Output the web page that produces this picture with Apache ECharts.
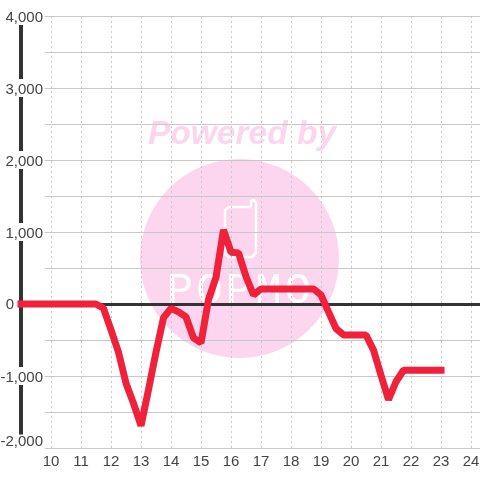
<!DOCTYPE html>
<html>
<head>
<meta charset="utf-8">
<style>
  html, body { margin: 0; padding: 0; background: #fff; }
  #chart { width: 480px; height: 480px; }
</style>
<script src="https://cdn.jsdelivr.net/npm/echarts@6/dist/echarts.min.js"></script>
</head>
<body>
<div id="chart"></div>
<script>
const hours = [9, 11.5, 11.75, 12, 12.25, 12.5, 12.75, 13, 13.25, 13.5, 13.75, 14, 14.25, 14.5, 14.75, 15, 15.25, 15.5, 15.75, 16, 16.25, 16.5, 16.75, 17, 18.75, 19, 19.25, 19.5, 19.75, 20.5, 20.75, 21, 21.25, 21.5, 21.75, 23];
const values = [0, 0, -60, -360, -670, -1100, -1380, -1690, -1190, -670, -190, -60, -110, -180, -470, -540, 60, 370, 1030, 720, 710, 380, 125, 210, 210, 125, -110, -340, -430, -430, -640, -990, -1330, -1080, -920, -920];
const logoLetters = ['P', 'O', 'P', 'M', 'O'];

const textColor = '#444';
const gridColor = '#c8c8c8';
const darkLine = '#333';
const pink = '#fcd5ee';
const font = 'Liberation Sans';

const myChart = echarts.init(document.getElementById('chart'));

// grid 0 holds the line, the zero line and the thick y axis; grid 1 holds labels and grid lines
const plotBox = { right: 0, top: 16, bottom: 32, outerBoundsMode: 'none' };
const labelStyle = { color: textColor, fontFamily: font, fontSize: 15, lineHeight: 10 };

const yLabel = v => {
  if (v % 1000 !== 0) return '';
  if (v === 0) return '{zero|0}';
  const text = v.toLocaleString('en-US');
  return v === -2000 ? '{low|' + text + '}' : '{lab|' + text + '}';
};

myChart.setOption({
  animation: false,
  backgroundColor: '#fff',
  grid: [
    Object.assign({ left: 21 }, plotBox),
    Object.assign({ left: 51 }, plotBox)
  ],
  graphic: [
    { type: 'circle', z: -1, shape: { cx: 239.5, cy: 258.5, r: 99.5 }, style: { fill: pink } },
    { type: 'text', z: -1, x: 242, y: 135, style: { text: 'Powered by', fill: pink, font: 'italic bold 33.5px "Liberation Sans"', textAlign: 'center', textVerticalAlign: 'middle' } },
    {
      type: 'polyline', z: -1,
      shape: { points: [[251, 207], [229, 207], [225, 210], [225, 253], [229, 257], [252, 257], [256, 253], [256, 203], [254, 200], [251, 201], [251, 207]] },
      style: { fill: 'none', stroke: '#fff', lineWidth: 2.5, lineJoin: 'round' }
    }
  ].concat(logoLetters.map((ch, i) => ({
    type: 'text', z: -1, x: 180 + i * 29.5, y: 291,
    style: { text: ch, fill: '#fff', font: '44px "Liberation Mono"', textAlign: 'center', textVerticalAlign: 'middle' }
  }))),
  xAxis: [
    {
      type: 'value', gridIndex: 0, min: 9, max: 24.3, interval: 1,
      axisLine: { onZero: true, show: true, lineStyle: { color: darkLine, width: 3 } },
      axisTick: { show: false }, axisLabel: { show: false }, splitLine: { show: false }
    },
    {
      type: 'value', gridIndex: 1, min: 10, max: 24.3, interval: 1,
      axisLine: { onZero: false, show: false },
      axisTick: { show: false },
      axisLabel: { color: textColor, fontFamily: font, fontSize: 15, margin: 6, showMaxLabel: false },
      splitLine: { show: true, showMaxLine: false, lineStyle: { color: gridColor, type: [2, 3], width: 1 } }
    }
  ],
  yAxis: [
    {
      type: 'value', gridIndex: 0, min: -2000, max: 4000, interval: 500,
      axisLine: { show: true, onZero: false, lineStyle: { color: darkLine, width: 4 } },
      axisTick: { show: false }, axisLabel: { show: false }, splitLine: { show: false }
    },
    {
      type: 'value', gridIndex: 1, min: -2000, max: 4000, interval: 500,
      axisLine: { show: false, onZero: false },
      axisTick: { show: true, length: 6, lineStyle: { color: gridColor } },
      axisLabel: {
        margin: 8,
        formatter: yLabel,
        rich: {
          lab: Object.assign({ backgroundColor: '#fff', padding: [3, 0, 0, 0] }, labelStyle),
          low: Object.assign({ backgroundColor: '#fff', padding: [0, 0, 12, 0] }, labelStyle),
          zero: Object.assign({ padding: [2, 29, 0, 0] }, labelStyle)
        }
      },
      splitLine: { show: true, lineStyle: { color: gridColor, width: 1 } }
    }
  ],
  series: [{
    type: 'line',
    xAxisIndex: 0,
    yAxisIndex: 0,
    data: hours.map((h, i) => [h, values[i]]),
    clip: false,
    silent: true,
    showSymbol: false,
    lineStyle: { color: '#f0213a', width: 7, cap: 'square', join: 'bevel' }
  }]
});
</script>
</body>
</html>
